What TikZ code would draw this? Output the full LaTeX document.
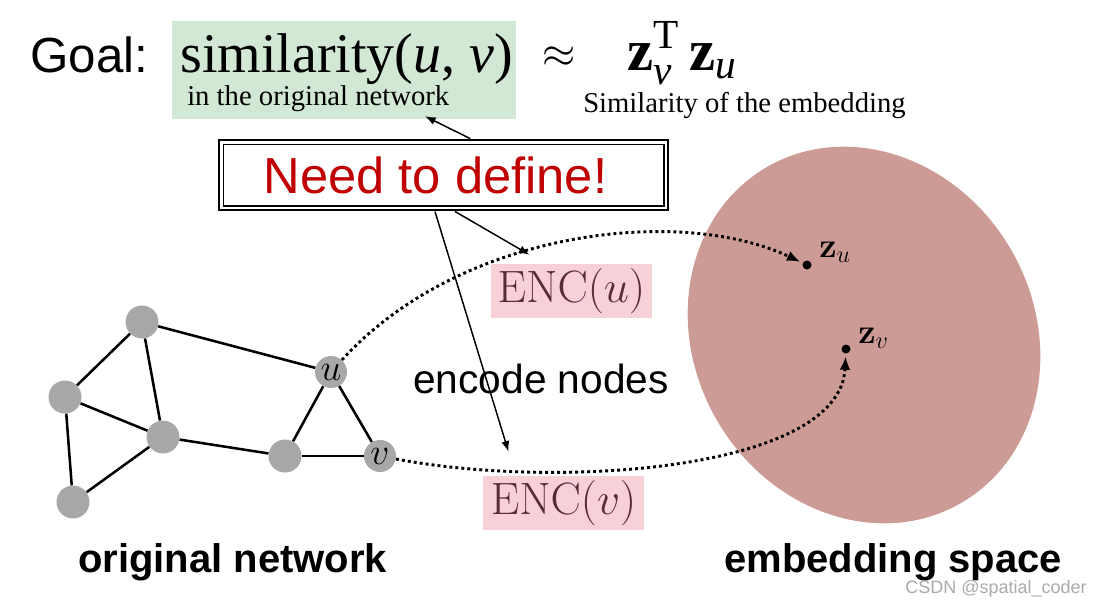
\RequirePackage{fix-cm}
\documentclass[tikz,border=0pt]{standalone}
\usepackage{amsmath}
\usepackage[no-math]{fontspec}
\setmainfont{Liberation Serif}
\setsansfont{Liberation Sans}
\usetikzlibrary{arrows.meta}

\definecolor{simgreen}{RGB}{210,232,212}
\definecolor{encpink}{RGB}{248,208,216}
\definecolor{enctext}{RGB}{88,44,52}
\definecolor{nodegray}{RGB}{167,169,168}
\definecolor{embfill}{RGB}{205,155,150}
\definecolor{needred}{RGB}{192,0,0}
\definecolor{markgray}{RGB}{170,170,170}

\newcommand{\subfont}[1]{\text{\fontsize{31}{31}\selectfont #1}}

\begin{document}
\begin{tikzpicture}[x=0.75pt, y=-0.75pt,
    gnode/.style={circle, fill=nodegray, minimum size=24.75pt, inner sep=0pt, font=\fontsize{28}{28}\selectfont},
    edge/.style={line width=1.9pt},
    arrow/.style={line width=1.1pt, -{Latex[length=8pt,width=6pt]}},
    mapping/.style={line width=2.2pt, dash pattern=on 2.2pt off 2.3pt, -{Latex[length=10pt,width=8pt]}},
    encbox/.style={rectangle, fill=encpink, minimum width=120.75pt, minimum height=40.5pt, inner sep=0pt, text=enctext, font=\fontsize{34}{34}\selectfont},
    needbox/.style={rectangle, draw=black, line width=2.2pt, fill=white, minimum width=336.75pt, minimum height=52.5pt, text=needred, font=\sffamily\fontsize{38}{38}\selectfont},
    point/.style={circle, fill=black, minimum size=6.75pt, inner sep=0pt},
    caption/.style={anchor=base west, inner sep=0pt, font=\sffamily\bfseries\fontsize{30}{30}\selectfont}
  ]
    \useasboundingbox (0,0) rectangle (1113,608);

    % Embedding space
    \fill[embfill, rotate around={30:(864,335)}] (864,335) ellipse [x radius=170, y radius=194];
    \node (z_u) [point] at (807,265) {};
    \node (z_v) [point] at (846,349) {};
    \node [anchor=base west, inner sep=0pt, font=\fontsize{26}{26}\selectfont] at (819,257) {$\mathbf{z}_u$};
    \node [anchor=base west, inner sep=0pt, font=\fontsize{26}{26}\selectfont] at (858,343) {$\mathbf{z}_v$};

    % Goal line
    \node (sim_box) [rectangle, fill=simgreen, minimum width=258pt, minimum height=73.5pt] at (344,70) {};
    \node (goal) [anchor=base west, inner sep=0pt, font=\sffamily\fontsize{37}{37}\selectfont] at (30,72) {Goal:};
    \node (sim) [anchor=base west, inner sep=0pt, font=\fontsize{42}{42}\selectfont] at (180,72) {similarity(\textit{u}, \textit{v})};
    \node (sim_note) [anchor=base west, inner sep=0pt, font=\fontsize{21.5}{21.5}\selectfont] at (187,105) {in the original network};
    \node (approx) [inner sep=0pt, font=\fontsize{32}{32}\selectfont] at (559,57) {$\approx$};
    \node (prod) [anchor=base west, inner sep=0pt, font=\fontsize{44}{44}\selectfont] at (627,70) {$\textbf{z}_{\subfont{\textit{v}}}^{\subfont{T}}\,\textbf{z}_{\subfont{\textit{u}}}$};
    \node (prod_note) [anchor=base west, inner sep=0pt, font=\fontsize{21.5}{21.5}\selectfont] at (583,112) {Similarity of the embedding};

    % Need to define
    \node (need) [needbox] at (443.5,175) {Need to define!\hspace*{12pt}};
    \draw[line width=0.8pt] ([shift={(5.5,5.5)}]need.north west) rectangle ([shift={(-5.5,-5.5)}]need.south east);

    % Encoder boxes
    \node (enc_u) [encbox] at (571.5,291) {$\mathrm{ENC}(u)$};
    \node (enc_v) [encbox] at (563.5,503) {$\mathrm{ENC}(v)$};
    \node (encode) [anchor=base west, inner sep=0pt, font=\sffamily\fontsize{30.5}{30.5}\selectfont] at (413,393) {encode nodes};

    % Original network
    \node (g_top) [gnode] at (142,322) {};
    \node (g_left) [gnode] at (65,397) {};
    \node (g_mid) [gnode] at (163,437) {};
    \node (g_bot) [gnode] at (73,502) {};
    \node (g_right) [gnode] at (285,456) {};
    \node (n_u) [gnode, minimum size=24pt] at (331,372) {$u$};
    \node (n_v) [gnode, minimum size=24pt] at (380,456) {$v$};

    \draw[edge] (g_top) -- (g_left);
    \draw[edge] (g_top) -- (g_mid);
    \draw[edge] (g_top) -- (n_u);
    \draw[edge] (g_left) -- (g_mid);
    \draw[edge] (g_left) -- (g_bot);
    \draw[edge] (g_mid) -- (g_bot);
    \draw[edge] (g_mid) -- (g_right);
    \draw[edge] (g_right) -- (n_u);
    \draw[edge] (g_right) -- (n_v);
    \draw[edge] (n_u) -- (n_v);

    % Mappings
    \draw[mapping, shorten >=2pt] (n_u) .. controls (460,230) and (680,205) .. (z_u);
    \draw[mapping, shorten >=2pt] (n_v) .. controls (560,490) and (840,470) .. (z_v);

    % Annotation arrows
    \draw[arrow] ([xshift=20pt]need.north) -- ([shift={(81,-3)}]sim_box.south);
    \draw[arrow] ([xshift=8.6pt]need.south) -- ([shift={(-42,-9)}]enc_u.north);
    \draw[arrow] ([xshift=-6.4pt]need.south) -- ([shift={(-55,-24)}]enc_v.north);

    % Labels
    \node (orig_lab) [caption] at (78,572) {original network};
    \node (emb_lab) [caption] at (724,572) {embedding space};
    \node (mark) [anchor=base west, inner sep=0pt, text=markgray, font=\sffamily\fontsize{13.5}{13.5}\selectfont] at (905,593) {CSDN @spatial\_coder};

  \end{tikzpicture}
\end{document}
